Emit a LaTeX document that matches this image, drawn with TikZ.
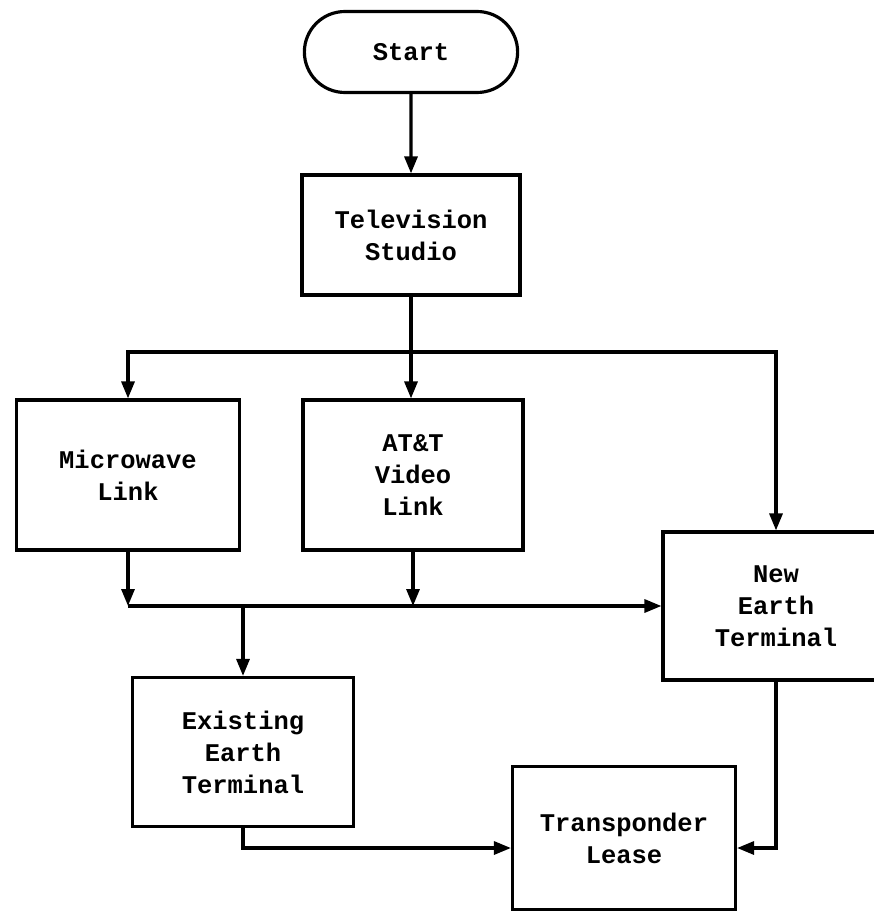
\documentclass[tikz,border=0pt]{standalone}
\usepackage{fontspec}
\setmonofont{Liberation Mono}
\usetikzlibrary{arrows.meta,shapes.misc}

\tikzset{
  block/.style={draw, line width=1.8pt, rectangle, align=center,
    font=\ttfamily\bfseries\fontsize{14.5}{18.2}\selectfont},
  startbox/.style={block, rounded rectangle},
  link/.style={draw, line width=1.8pt, -{Triangle[length=0.34cm,width=0.26cm]}},
}

\begin{document}
\begin{tikzpicture}[x=0.02cm,y=-0.02cm]
\useasboundingbox (0,0) rectangle (874,912);
\clip (0,0) rectangle (874,912);

\node[startbox, minimum width=4.5cm, minimum height=1.62cm] (start) at (411,52) {Start};
\node[block, minimum width=4.36cm, minimum height=2.4cm] (studio) at (411,235) {Television\\Studio};
\node[block, minimum width=4.46cm, minimum height=3cm] (micro) at (128,475) {Microwave\\Link};
\node[block, minimum width=4.4cm, minimum height=3cm] (att) at (413,475) {AT\&T\\Video\\Link};
\node[block, minimum width=4.52cm, minimum height=2.96cm] (newet) at (776,606) {New\\Earth\\Terminal};
\node[block, minimum width=4.42cm, minimum height=2.98cm] (exist) at (243,752) {Existing\\Earth\\Terminal};
\node[block, minimum width=4.46cm, minimum height=2.86cm] (trans) at (624,838) {Transponder\\Lease};

% splits and joins
\coordinate (split) at (411,352);
\coordinate (merge) at (micro.south |- newet.west);
\coordinate (tin) at (0,848);

\draw[link] (start) -- (studio);
\draw[link] (studio.south) -- (studio.south |- att.north);
\draw[link] (split) -| (micro);
\draw[link] (split) -| (newet);

\draw[link] (micro) -- (merge);
\draw[link] (att) -- (att |- merge);
\draw[link] (merge) -- (newet);
\draw[link] (exist |- merge) -- (exist);

\draw[link] (exist) |- (trans.west |- tin);
\draw[link] (newet) |- (trans.east |- tin);
\end{tikzpicture}
\end{document}
